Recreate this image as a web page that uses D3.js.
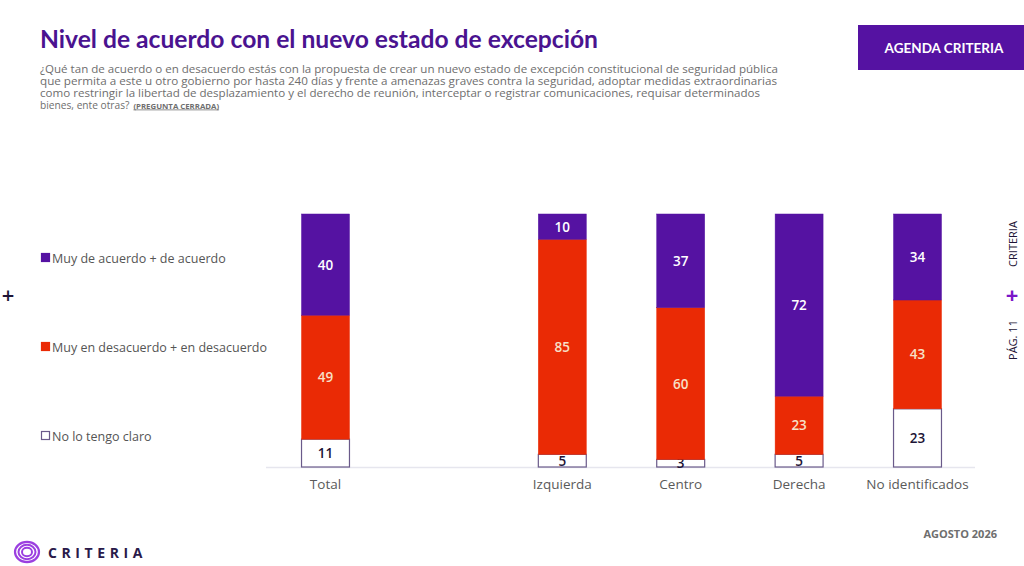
<!DOCTYPE html>
<html><head><meta charset="utf-8">
<script src="https://cdn.jsdelivr.net/npm/d3@7"></script>
<style>
html,body{margin:0;padding:0;background:#fff;}
svg{display:block;font-family:"Open Sans",Lato,sans-serif;}
</style></head>
<body>
<svg id="chart" width="1024" height="566"></svg>
<script>
const categories = ["Total", "", "Izquierda", "Centro", "Derecha", "No identificados"];
const seriesNames = ["Muy de acuerdo + de acuerdo", "Muy en desacuerdo + en desacuerdo", "No lo tengo claro"];
const acuerdo = [40, null, 10, 37, 72, 34];
const desacuerdo = [49, null, 85, 60, 23, 43];
const noClaro = [11, null, 5, 3, 5, 23];
const subtitleLines = [
  "¿Qué tan de acuerdo o en desacuerdo estás con la propuesta de crear un nuevo estado de excepción constitucional de seguridad pública",
  "que permita a este u otro gobierno por hasta 240 días y frente a amenazas graves contra la seguridad, adoptar medidas extraordinarias",
  "como restringir la libertad de desplazamiento y el derecho de reunión, interceptar o registrar comunicaciones, requisar determinados",
  "bienes, ente otras?"
];

const PURPLE = "#5512a2", RED = "#ea2a05", TITLE = "#4a1390";
const svg = d3.select("#chart");

// Title
svg.append("text").attr("x", 40).attr("y", 48).attr("fill", TITLE)
  .attr("font-family", "Lato, sans-serif").attr("font-weight", 700).attr("font-size", 24)
  .attr("textLength", 558).attr("lengthAdjust", "spacingAndGlyphs")
  .text("Nivel de acuerdo con el nuevo estado de excepción");

// Subtitle
const sub = svg.append("g").attr("font-size", 10.2).attr("fill", "#6e6e6e");
subtitleLines.forEach((l, i) => {
  const t = sub.append("text").attr("x", 40).attr("y", 72.5 + i * 12).text(l);
  if (i < 3) t.attr("textLength", [738, 737, 720][i]).attr("lengthAdjust", "spacingAndGlyphs");
  else t.append("tspan").attr("dx", 4).attr("font-size", 7.8).attr("font-weight", 700)
    .attr("text-decoration", "underline").text("(PREGUNTA CERRADA)");
});

// Header button
svg.append("rect").attr("x", 858).attr("y", 25).attr("width", 172).attr("height", 45).attr("fill", PURPLE);
svg.append("text").attr("x", 944).attr("y", 53).attr("text-anchor", "middle").attr("fill", "#fff")
  .attr("font-family", "Lato, sans-serif").attr("font-weight", 700).attr("font-size", 13.5).text("AGENDA CRITERIA");

// Scales
const x = d3.scaleBand().domain(categories).range([266, 977]).paddingInner(0.595).paddingOuter(0.3);
const y = d3.scaleLinear().domain([0, 100]).range([467, 214]);

// Baseline
svg.append("line").attr("x1", 266).attr("x2", 975).attr("y1", 467.5).attr("y2", 467.5)
  .attr("stroke", "#e6e6ee").attr("stroke-width", 1.5);

const rows = categories.map((c, i) => ({cat: c, a: acuerdo[i], d: desacuerdo[i], n: noClaro[i]}))
  .filter(r => r.a !== null);
const stack = d3.stack().keys(["n", "d", "a"])(rows);
const colors = {n: "#ffffff", d: RED, a: PURPLE};
const textColors = {n: "#1d1436", d: "#f7e0c8", a: "#ffffff"};

const layers = svg.append("g").selectAll("g").data(stack).join("g");
layers.selectAll("rect").data(d => d.map(p => ({p, key: d.key}))).join("rect")
  .attr("x", d => x(d.p.data.cat)).attr("width", x.bandwidth())
  .attr("y", d => y(d.p[1])).attr("height", d => y(d.p[0]) - y(d.p[1]))
  .attr("fill", d => colors[d.key])
  .attr("stroke", d => d.key === "n" ? "#6a5a8a" : colors[d.key]).attr("stroke-width", d => d.key === "n" ? 1.2 : 0.5);
layers.selectAll("text").data(d => d.map(p => ({p, key: d.key}))).join("text")
  .attr("x", d => x(d.p.data.cat) + x.bandwidth() / 2)
  .attr("y", d => (y(d.p[0]) + y(d.p[1])) / 2 + 5)
  .attr("text-anchor", "middle").attr("font-size", 13.5).attr("font-weight", 600)
  .attr("fill", d => textColors[d.key])
  .text(d => d.p.data[d.key]);

// x axis labels
const xAxis = d3.axisBottom(x).tickSize(0).tickPadding(0);
const ax = svg.append("g").attr("transform", "translate(0,476)").call(xAxis);
ax.select(".domain").remove();
ax.selectAll("text").attr("font-size", 13.5).attr("fill", "#5a5a5a").attr("dy", "0.95em")
  .attr("font-family", "'Open Sans', sans-serif");

// Legend
const legY = [258, 347, 436];
seriesNames.forEach((s, i) => {
  const key = ["a", "d", "n"][i];
  svg.append("rect").attr("x", 41.5).attr("y", legY[i] - 4.5).attr("width", 8).attr("height", 8)
    .attr("fill", colors[key]).attr("stroke", key === "n" ? "#6a5a8a" : colors[key]).attr("stroke-width", 1.2);
  svg.append("text").attr("x", 52).attr("y", legY[i] + 4.5).attr("font-size", 12.5).attr("fill", "#555")
    .text(s);
});

// Left plus
svg.append("text").attr("x", 8).attr("y", 303).attr("text-anchor", "middle").attr("font-size", 22)
  .attr("font-weight", 600).attr("fill", "#1d1436").text("+");

// Right vertical labels
const side = svg.append("g").attr("transform", "translate(1017,296) rotate(-90)");
side.append("text").attr("x", 52).attr("y", 0).attr("text-anchor", "middle").attr("font-size", 11)
  .attr("fill", "#1d1436").text("CRITERIA");
side.append("text").attr("x", 0).attr("y", 2).attr("text-anchor", "middle").attr("font-size", 22)
  .attr("font-weight", 700).attr("fill", "#7a17c8").attr("transform", "rotate(90,0,-5)").text("+");
side.append("text").attr("x", -44).attr("y", 0).attr("text-anchor", "middle").attr("font-size", 11)
  .attr("fill", "#1d1436").text("PÁG. 11");

// Footer
svg.append("text").attr("x", 997).attr("y", 538).attr("text-anchor", "end").attr("font-size", 11)
  .attr("font-weight", 700).attr("fill", "#6e6e6e").text("AGOSTO 2026");
const logo = svg.append("g").attr("transform", "translate(27,552)");
[[12, 2.2], [8.5, 2], [5, 2]].forEach(([r, w]) => {
  logo.append("ellipse").attr("rx", r).attr("ry", r * 0.85).attr("fill", "none")
    .attr("stroke", "#9b3fe0").attr("stroke-width", w);
});
svg.append("text").attr("x", 48).attr("y", 558).attr("font-size", 14).attr("font-weight", 700)
  .attr("letter-spacing", 4.6).attr("fill", "#2a1a4a").text("CRITERIA");
</script>
</body></html>
